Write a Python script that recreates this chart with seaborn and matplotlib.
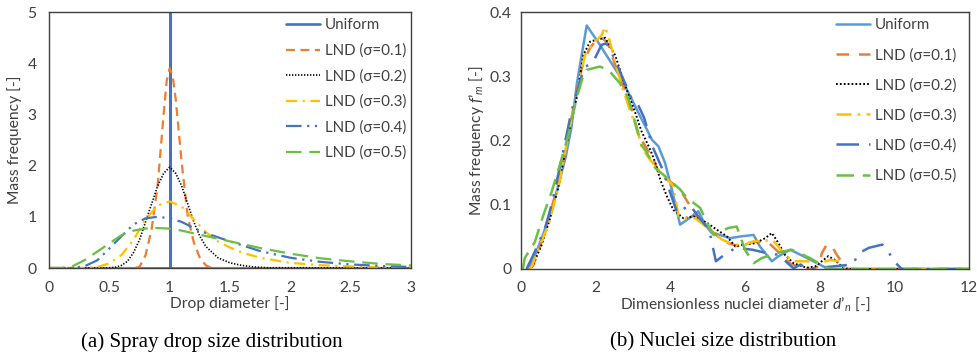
import matplotlib
matplotlib.use("Agg")
import matplotlib.pyplot as plt
import seaborn as sns

sns.set_style("white")
plt.rcParams['font.family'] = ['Lato', 'DejaVu Sans']
plt.rcParams['mathtext.fontset'] = 'custom'
plt.rcParams['mathtext.rm'] = 'Lato'
plt.rcParams['mathtext.it'] = 'Lato:italic'

# ---------------- data: panel (a) ----------------
a_labels = ["Uniform", "LND (σ=0.1)", "LND (σ=0.2)", "LND (σ=0.3)", "LND (σ=0.4)", "LND (σ=0.5)"]

a_uni_x = [0, 1, 1, 1, 3]
a_uni_y = [0, 0, 5, 0, 0]

a_s1_x = [0, 0.7, 0.75, 0.8, 0.85, 0.9, 0.95, 0.975, 1.0, 1.025, 1.05, 1.1, 1.15, 1.2, 1.25, 1.3, 1.35, 3]
a_s1_y = [0, 0, 0.02, 0.25, 0.75, 1.6, 3.0, 3.65, 3.9, 3.75, 3.3, 2.05, 1.0, 0.5, 0.2, 0.05, 0.0, 0]

a_s2_x = [0, 0.5, 0.55, 0.6, 0.65, 0.7, 0.75, 0.8, 0.85, 0.9, 0.95, 1.0, 1.05, 1.1, 1.15, 1.2, 1.25, 1.3, 1.4, 1.5, 1.6, 1.7, 1.8, 3]
a_s2_y = [0, 0, 0.015, 0.05, 0.13, 0.3, 0.55, 0.9, 1.25, 1.6, 1.85, 1.97, 1.85, 1.6, 1.25, 0.9, 0.62, 0.42, 0.2, 0.1, 0.05, 0.02, 0.005, 0]

a_s3_x = [0, 0.3, 0.4, 0.5, 0.6, 0.7, 0.8, 0.9, 1.0, 1.1, 1.2, 1.3, 1.4, 1.5, 1.6, 1.75, 2.0, 2.25, 2.5, 2.75, 3.0]
a_s3_y = [0, 0, 0.02, 0.09, 0.25, 0.55, 0.95, 1.22, 1.3, 1.2, 0.95, 0.7, 0.52, 0.4, 0.3, 0.2, 0.1, 0.055, 0.03, 0.015, 0.008]

a_s4_x = [0, 0.2, 0.3, 0.4, 0.5, 0.6, 0.7, 0.8, 0.9, 1.0, 1.1, 1.2, 1.3, 1.4, 1.5, 1.75, 2.0, 2.25, 2.5, 2.75, 3.0]
a_s4_y = [0, 0, 0.04, 0.15, 0.38, 0.62, 0.85, 0.97, 1.0, 0.97, 0.9, 0.78, 0.68, 0.6, 0.52, 0.33, 0.2, 0.12, 0.07, 0.04, 0.02]

a_s5_x = [0, 0.1, 0.2, 0.3, 0.4, 0.5, 0.6, 0.7, 0.8, 0.9, 1.0, 1.1, 1.25, 1.5, 1.75, 2.0, 2.25, 2.5, 2.75, 3.0]
a_s5_y = [0, 0, 0.04, 0.16, 0.32, 0.48, 0.64, 0.73, 0.77, 0.78, 0.77, 0.73, 0.65, 0.52, 0.39, 0.28, 0.19, 0.13, 0.08, 0.05]

a_xticks = [0, 0.5, 1, 1.5, 2, 2.5, 3]
a_xticklabels = ["0", "0.5", "1", "1.5", "2", "2.5", "3"]
a_yticks = [0, 1, 2, 3, 4, 5]

# ---------------- data: panel (b) ----------------
b_uni_x = [0.2, 0.4, 0.6, 0.8, 1.0, 1.2, 1.35, 1.5, 1.76, 2.1, 2.7, 3.19, 3.51, 3.68, 3.86, 4.04, 4.26, 4.58, 4.75, 4.93, 5.11,
           5.33, 5.6, 5.92, 6.23, 6.4, 6.72, 6.9, 7.21, 7.56, 7.83, 8.23, 12]
b_uni_y = [0, 0.025, 0.055, 0.09, 0.13, 0.175, 0.22, 0.29, 0.379, 0.35, 0.295, 0.238, 0.201, 0.191, 0.165, 0.124, 0.069, 0.082,
           0.09, 0.069, 0.056, 0.053, 0.048, 0.051, 0.053, 0.035, 0.012, 0.02, 0.03, 0.02, 0.012, 0, 0]

b_s1_x = [0.2, 0.33, 0.46, 0.64, 0.82, 1.09, 1.35, 1.53, 1.67, 1.85, 2.02, 2.2, 2.34, 2.52, 2.69, 2.96, 3.14, 3.28, 3.55, 3.73,
          4.0, 4.26, 4.53, 4.75, 4.93, 5.11, 5.33, 5.56, 5.87, 6.05, 6.32, 6.65, 6.92, 7.2, 7.47, 7.8, 7.97, 8.06, 8.19, 8.33,
          8.46, 8.64, 8.75, 12]
b_s1_y = [0, 0.006, 0.027, 0.058, 0.094, 0.157, 0.235, 0.287, 0.323, 0.344, 0.357, 0.359, 0.349, 0.318, 0.292, 0.25, 0.209,
          0.196, 0.17, 0.144, 0.136, 0.124, 0.098, 0.077, 0.066, 0.059, 0.048, 0.04, 0.035, 0.04, 0.043, 0.04, 0.025, 0.009,
          0.002, 0, 0.004, 0.025, 0.038, 0.035, 0.022, 0.007, 0, 0]

b_s2_x = [0.2, 0.28, 0.55, 0.78, 1.0, 1.27, 1.49, 1.67, 1.85, 2.25, 2.52, 2.78, 3.05, 3.23, 3.46, 3.6, 3.73, 3.91, 4.08, 4.35,
          4.62, 4.98, 5.25, 5.51, 5.74, 5.96, 6.27, 6.54, 6.72, 6.9, 7.07, 7.3, 7.65, 7.88, 8.1, 8.23, 8.41, 8.59, 8.72, 12]
b_s2_y = [0, 0.001, 0.037, 0.079, 0.126, 0.209, 0.266, 0.333, 0.354, 0.36, 0.333, 0.287, 0.245, 0.214, 0.186, 0.165, 0.139,
          0.113, 0.092, 0.079, 0.082, 0.072, 0.061, 0.051, 0.035, 0.038, 0.04, 0.048, 0.056, 0.04, 0.022, 0.009, 0.002, 0.004,
          0.014, 0.02, 0.014, 0.004, 0, 0]

b_s3_x = [0.2, 0.28, 0.51, 0.73, 1.0, 1.27, 1.53, 1.71, 1.94, 2.16, 2.25, 2.38, 2.52, 2.69, 2.96, 3.09, 3.24, 3.46, 3.64, 3.86,
          4.08, 4.22, 4.4, 4.67, 4.89, 5.11, 5.38, 5.69, 6.0, 6.23, 6.49, 6.72, 6.85, 7.07, 7.3, 7.74, 8.01, 8.28, 8.5, 8.68,
          8.8, 12]
b_s3_y = [0, 0.003, 0.037, 0.068, 0.126, 0.209, 0.282, 0.333, 0.351, 0.364, 0.377, 0.354, 0.323, 0.287, 0.24, 0.222, 0.188,
          0.17, 0.157, 0.144, 0.129, 0.082, 0.079, 0.079, 0.069, 0.059, 0.046, 0.038, 0.038, 0.043, 0.043, 0.046, 0.038,
          0.022, 0.012, 0.012, 0.009, 0.014, 0.012, 0.002, 0, 0]

b_s4_x = [0.15, 0.37, 0.64, 0.82, 1.09, 1.35, 1.58, 1.71, 1.85, 1.98, 2.16, 2.29, 2.52, 2.69, 2.96, 3.14, 3.3, 3.52, 3.79, 4.06,
          4.19, 4.52, 4.77, 5.04, 5.22, 5.4, 5.75, 6.2, 6.56, 6.91, 7.18, 7.3, 7.49, 7.65, 8.88, 9.06, 9.32, 9.68, 9.86, 9.99,
          10.2, 12]
b_s4_y = [0, 0.027, 0.063, 0.1, 0.172, 0.245, 0.292, 0.315, 0.318, 0.328, 0.349, 0.351, 0.326, 0.302, 0.266, 0.255, 0.235,
          0.191, 0.155, 0.108, 0.087, 0.1, 0.08, 0.061, 0.012, 0.02, 0.033, 0.03, 0.025, 0.022, 0.007, 0.001, 0.007, 0, 0.007,
          0.025, 0.033, 0.038, 0.025, 0.012, 0, 0]

b_s5_x = [0.05, 0.1, 0.37, 0.6, 0.82, 1.04, 1.27, 1.49, 1.67, 1.76, 2.11, 2.34, 2.65, 2.87, 3.23, 3.37, 3.6, 3.91, 4.26, 4.44,
          4.8, 4.98, 5.16, 5.56, 5.78, 6.0, 6.23, 6.45, 6.85, 7.25, 7.74, 8.19, 8.3, 12]
b_s5_y = [0, 0.017, 0.042, 0.084, 0.12, 0.162, 0.209, 0.266, 0.302, 0.31, 0.315, 0.31, 0.289, 0.266, 0.193, 0.181, 0.157,
          0.142, 0.124, 0.111, 0.095, 0.072, 0.053, 0.064, 0.066, 0.03, 0.009, 0.017, 0.025, 0.03, 0.017, 0.002, 0, 0]

b_xticks = [0, 2, 4, 6, 8, 10, 12]
b_yticks = [0, 0.1, 0.2, 0.3, 0.4]
b_yticklabels = ["0", "0.1", "0.2", "0.3", "0.4"]

# ---------------- styles ----------------
BLUE = "#4472C4"
LBLUE = "#5B9BD5"
ORANGE = "#ED7D31"
YELLOW = "#FFC000"
GREEN = "#6CBE45"
TXT = "#404040"
FS = 11.25
LFS = 10.9

fig = plt.figure(figsize=(9.78, 3.57), dpi=100)
axa = fig.add_axes([49 / 978, 1 - 268 / 357, 362 / 978, 256 / 357])
axb = fig.add_axes([521 / 978, 1 - 269 / 357, 448 / 978, 257 / 357])

a_series = [
    (a_uni_x, a_uni_y, BLUE, None, 1.9),
    (a_s1_x, a_s1_y, ORANGE, (4, 2.5), 1.6),
    (a_s2_x, a_s2_y, "black", (0.8, 1.0), 1.2),
    (a_s3_x, a_s3_y, YELLOW, (5, 2.5, 1, 2.5), 1.6),
    (a_s4_x, a_s4_y, BLUE, (7, 2.5, 1, 2.5, 1, 2.5), 1.6),
    (a_s5_x, a_s5_y, GREEN, (7, 3.5), 1.6),
]
for (xs, ys, c, d, lw), lab in zip(a_series, a_labels):
    sns.lineplot(x=xs, y=ys, ax=axa, color=c, lw=lw, estimator=None, sort=False, label=lab)
    ln = axa.lines[-1]
    if d is not None:
        ln.set_dashes(d)

b_series = [
    (b_uni_x, b_uni_y, LBLUE, None, 1.8),
    (b_s1_x, b_s1_y, ORANGE, (5, 4), 1.8),
    (b_s2_x, b_s2_y, "black", (0.9, 1.1), 1.4),
    (b_s3_x, b_s3_y, YELLOW, (6, 2.5, 1, 2.5), 1.8),
    (b_s4_x, b_s4_y, BLUE, (9, 4, 1, 4), 1.8),
    (b_s5_x, b_s5_y, GREEN, (7, 3.5), 1.8),
]
for (xs, ys, c, d, lw), lab in zip(b_series, a_labels):
    sns.lineplot(x=xs, y=ys, ax=axb, color=c, lw=lw, estimator=None, sort=False, label=lab)
    ln = axb.lines[-1]
    if d is not None:
        ln.set_dashes(d)

axa.set_xlim(0, 3)
axa.set_ylim(0, 5)
axa.set_xticks(a_xticks)
axa.set_xticklabels(a_xticklabels)
axa.set_yticks(a_yticks)
axa.set_xlabel("Drop diameter [-]", fontsize=FS, color=TXT)
axa.set_ylabel("Mass frequency [-]", fontsize=FS, color=TXT)
axa.xaxis.set_label_coords(0.5, -0.14)
axa.yaxis.set_label_coords(-0.094, 0.5)

axb.set_xlim(0, 12)
axb.set_ylim(0, 0.4)
axb.set_xticks(b_xticks)
axb.set_yticks(b_yticks)
axb.set_yticklabels(b_yticklabels)
axb.set_xlabel("Dimensionless nuclei diameter $d\u2019_n$ [-]", fontsize=FS, color=TXT)
axb.set_ylabel("Mass frequency $f\u2019_m$ [-]", fontsize=FS, color=TXT)
axb.xaxis.set_label_coords(0.5, -0.136)
axb.yaxis.set_label_coords(-0.099, 0.5)

for ax in (axa, axb):
    ax.xaxis.label.set_va("center")
    ax.yaxis.label.set_va("center")
    ax.tick_params(axis="both", length=0, labelsize=FS, labelcolor=TXT, pad=9)
    for s in ax.spines.values():
        s.set_visible(True)
        s.set_color("#404040")
        s.set_linewidth(1.0)
    ax.grid(False)
axb.tick_params(axis="y", pad=7)

axa.legend(loc="upper left", bbox_to_anchor=(0.655, 0.975), frameon=False, fontsize=LFS,
           handlelength=2.25, handletextpad=0.3, labelspacing=0.74, borderaxespad=0, borderpad=0,
           labelcolor=TXT)
axb.legend(loc="upper left", bbox_to_anchor=(0.703, 0.975), frameon=False, fontsize=LFS,
           handlelength=2.25, handletextpad=0.3, labelspacing=1.04, borderaxespad=0, borderpad=0,
           labelcolor=TXT)

fig.text(212 / 978, 1 - 342 / 357, "(a) Spray drop size distribution", ha="center", va="center",
         fontsize=15.1, family="Liberation Serif", color="black")
fig.text(723 / 978, 1 - 342 / 357, "(b) Nuclei size distribution", ha="center", va="center",
         fontsize=15.1, family="Liberation Serif", color="black")

fig.savefig("out.png", dpi=100)
